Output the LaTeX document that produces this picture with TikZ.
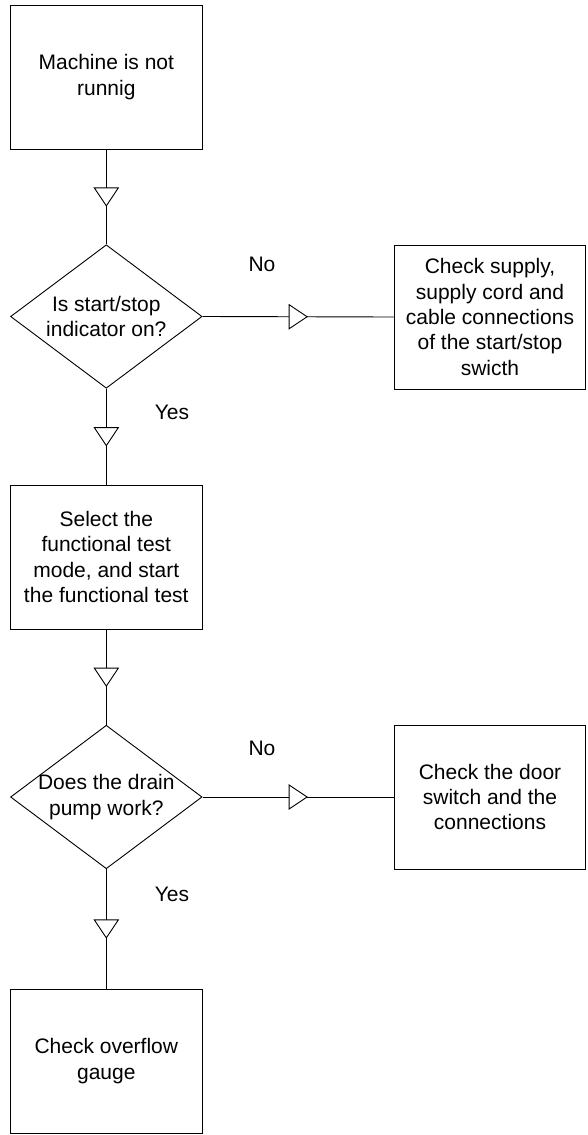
\documentclass[tikz,border=0pt]{standalone}
\usepackage{fontspec}
\setmainfont{Liberation Sans}
\usetikzlibrary{shapes.geometric,decorations.markings}
\begin{document}
\begin{tikzpicture}[x=1pt,y=1pt,line width=0.9pt,
  txt/.style={font=\fontsize{21pt}{25.4pt}\selectfont},
  box/.style={draw, rectangle, minimum width=191.5pt, minimum height=144pt, inner sep=0pt, align=center, txt},
  dec/.style={draw, diamond, minimum width=191.5pt, minimum height=143.5pt, inner sep=0pt},
  lbl/.style={txt, inner sep=0pt},
  flow/.style={draw, postaction={decorate}, decoration={markings, mark=at position 0.5 with {\draw[fill=white, line width=0.9pt] (-9pt,-12pt) -- (9pt,0pt) -- (-9pt,12pt) -- cycle;}}}
]
\fill[white] (0,0) rectangle (587,-1135);
\useasboundingbox (0,0) rectangle (587,-1135);

\node[box] (b1) at (106.3,-77) {Machine is not\\runnig};
\node[dec, label={[txt, align=center]center:Is start/stop\\indicator on?}] (d1) at (106.3,-316.5) {};
\node[box] (b2) at (490,-317) {Check supply,\\supply cord and\\cable connections\\of the start/stop\\swicth};
\node[box] (b3) at (106.3,-557) {Select the\\functional test\\mode, and start\\the functional test};
\node[dec, label={[txt, align=center]center:Does the drain\\pump work?}] (d2) at (106.3,-797) {};
\node[box] (b4) at (490,-797) {Check the door\\switch and the\\connections};
\node[box] (b5) at (106.3,-1061) {Check overflow\\gauge};

\node[lbl] (no1) at (262,-264) {No};
\node[lbl] (yes1) at (172,-412) {Yes};
\node[lbl] (no2) at (262,-748) {No};
\node[lbl] (yes2) at (172,-894) {Yes};

\path[flow] (b1.south) -- (d1.north);
\path[flow] (d1.east) -- (b2.west);
\path[flow] (d1.south) -- (b3.north);
\path[flow] (b3.south) -- (d2.north);
\path[flow] (d2.east) -- (b4.west);
\path[flow] (d2.south) -- (b5.north);
\end{tikzpicture}
\end{document}
